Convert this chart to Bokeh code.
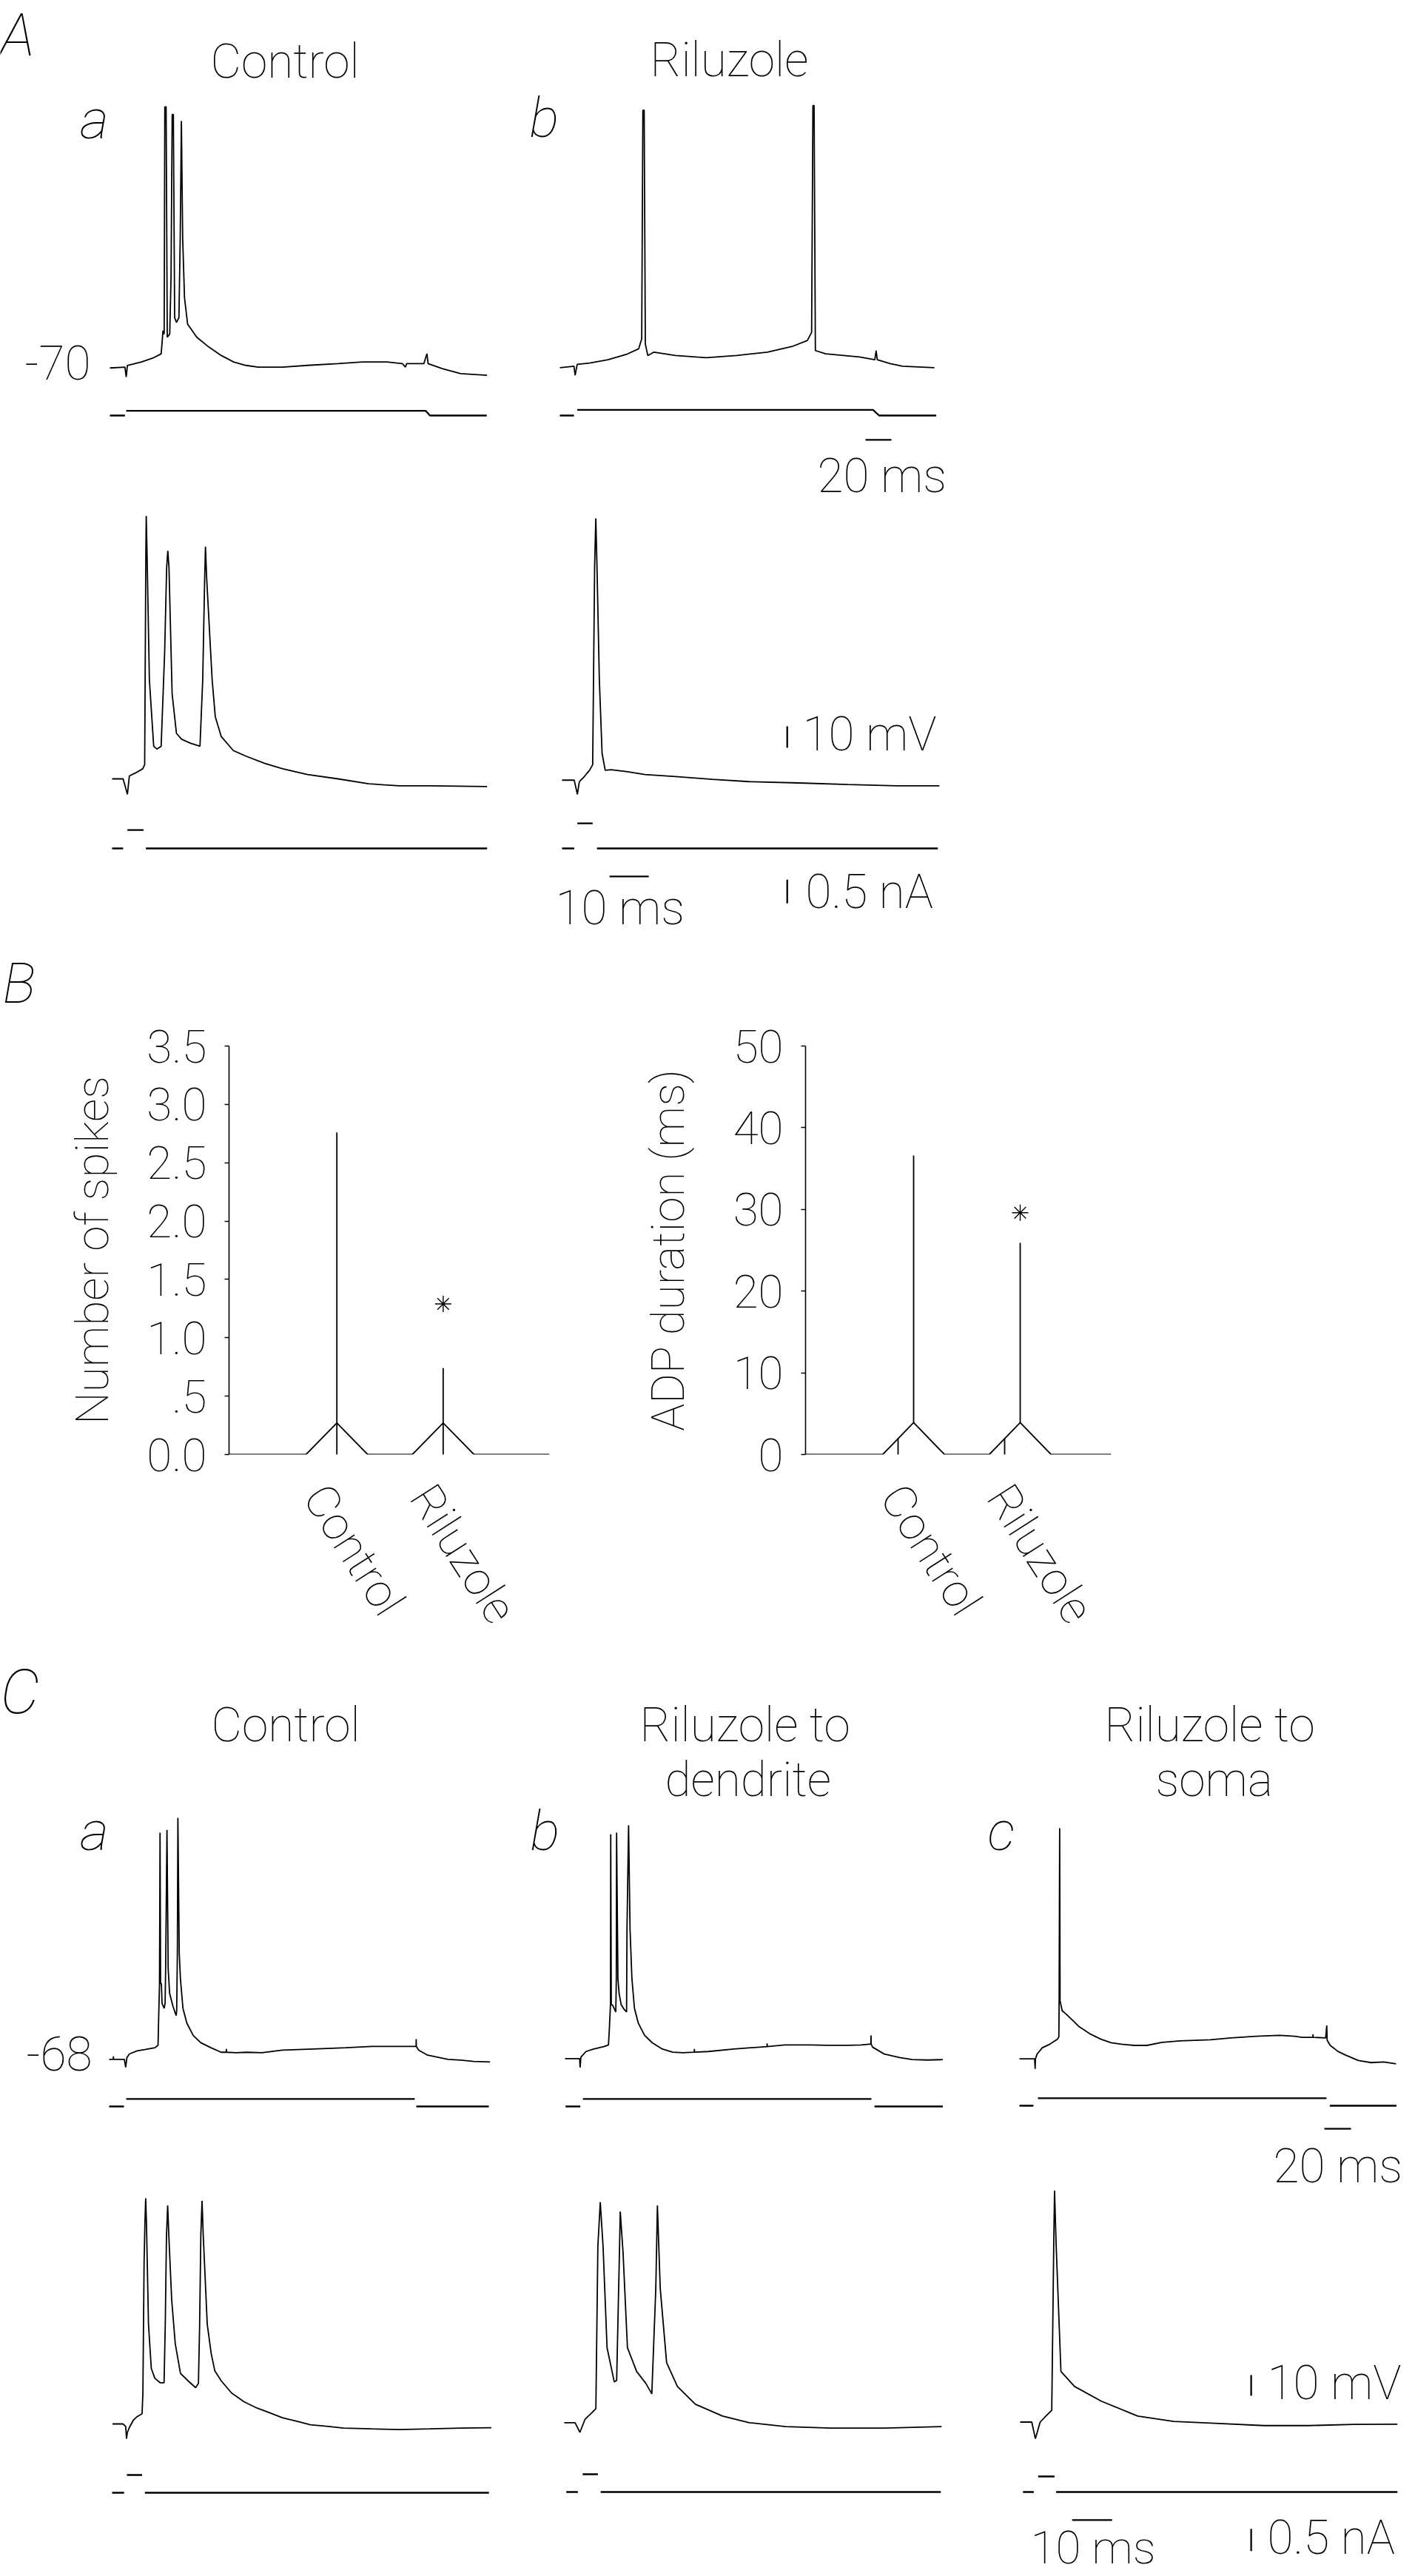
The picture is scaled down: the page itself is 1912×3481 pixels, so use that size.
import numpy as np
from bokeh.plotting import figure
from bokeh.models import Range1d, Label, FixedTicker
from bokeh.layouts import column, row
from bokeh.embed import file_html
from bokeh.resources import INLINE

FONT = "Roboto Thin"
NAN = float("nan")

# ---------------- DATA ----------------
# Membrane potential traces: (time ms, potential mV)
# A, long current step, control / riluzole
A_long_ctrl = [(0, -70.6), (11.6, -70.2), (12.6, -74.8), (13.5, -69.4), (24.4, -67.8), (33.9, -65.8),
               (39.6, -64.0), (41.0, -53.2), (41.9, -54.8), (42.4, 51.1), (43.4, 51.1), (44.3, -56.3),
               (46.2, -54.8), (47.2, -28.6), (48.1, 47.5), (49.0, 47.5), (50.0, -47.1), (51.4, -49.4),
               (53.3, -47.1), (54.3, -10.2), (55.2, 44.5), (56.2, -10.2), (57.6, -37.8), (60.0, -50.2),
               (67.1, -56.3), (76.5, -60.9), (86.0, -64.8), (95.5, -67.8), (105.0, -69.4), (114.5, -70.2),
               (133.4, -70.2), (152.4, -69.4), (176.1, -68.6), (195.0, -67.8), (214.0, -67.8), (225.8, -68.6),
               (228.2, -70.2), (229.1, -68.6), (242.4, -68.6), (244.8, -64.0), (245.7, -68.6), (256.6, -70.9),
               (270.8, -73.2), (291.2, -74.0)]
A_long_ril = [(0, -70.5), (10.9, -69.8), (11.8, -74.0), (13.4, -68.9), (22.9, -68.3), (37.1, -66.8),
              (51.3, -64.3), (60.8, -61.7), (63.2, -57.1), (64.1, 49.5), (65.1, 49.5), (66.0, -59.4),
              (67.9, -64.8), (72.7, -63.2), (89.2, -64.8), (112.9, -65.8), (136.6, -64.8), (160.3, -63.2),
              (179.3, -60.6), (191.1, -57.8), (194.4, -54.0), (195.4, 51.7), (196.3, 51.7), (197.3, -62.5),
              (205.3, -64.0), (231.4, -65.5), (243.2, -66.8), (244.2, -62.5), (245.1, -66.8), (255.1, -68.6),
              (264.6, -69.8), (289.2, -70.5)]
# A, brief current pulse, control / riluzole
A_short_ctrl = [(0, -70), (2.8, -70), (3.9, -77.2), (4.4, -68.6), (5.9, -67.3), (7.8, -65.3), (8.3, -63.4),
                (8.6, 35.6), (8.7, 52.5), (8.9, 35.6), (9.5, -23.8), (10.6, -54.8), (11.4, -56.1), (12.5, -54.8),
                (13.4, -10.6), (13.9, 28.4), (14.2, 36.3), (14.5, 28.4), (15.3, -30.4), (16.4, -48.8),
                (17.7, -51.5), (20.0, -53.4), (22.4, -54.8), (23.1, -23.8), (23.6, 23.7), (23.8, 38.2),
                (24.1, 23.7), (25.5, -23.8), (26.3, -41.0), (27.8, -50.2), (30.9, -56.8), (34.1, -59.4),
                (38.8, -62.7), (43.5, -65.3), (49.8, -68.0), (57.6, -70.0), (65.4, -72.3), (73.2, -73.2),
                (81.0, -73.2), (95.6, -73.6)]
A_short_ril = [(0, -70.6), (3.1, -70.6), (3.9, -77.2), (4.4, -71.3), (5.5, -69.3), (7.0, -66.0), (7.8, -63.4),
               (8.3, 28.9), (8.6, 51.4), (8.9, 28.9), (9.5, -23.8), (10.2, -58.1), (11.0, -66.0), (12.5, -65.7),
               (16.4, -66.6), (21.1, -68.0), (28.9, -68.9), (38.3, -70.2), (47.7, -71.3), (60.3, -71.9),
               (72.8, -72.6), (85.3, -73.2), (96.2, -73.2)]
# C, long current step: control / riluzole to dendrite / riluzole to soma
C_long_ctrl = [(0, -68.1), (3.1, -68.1), (3.2, -66.7), (3.3, -68.1), (11.4, -68.1), (12.4, -72.0), (13.3, -67.3),
               (15.2, -65.5), (21.0, -64.0), (26.7, -63.4), (34.4, -62.5), (36.7, -61.3), (37.2, -46.9),
               (37.8, -31.6), (38.2, 41.3), (38.6, -31.6), (39.2, -31.6), (39.7, -41.1), (41.3, -43.5),
               (42.0, -41.1), (42.4, -24.4), (43.4, 42.6), (44.3, -24.4), (45.4, -36.3), (47.8, -42.3),
               (50.3, -47.0), (50.7, -44.6), (51.2, -16.7), (51.6, 48.4), (52.6, -16.7), (53.5, -29.2),
               (55.4, -43.5), (58.3, -50.6), (63.1, -56.6), (68.8, -60.1), (76.4, -62.5), (84.1, -64.7),
               (87.9, -64.7), (88.0, -63.1), (88.1, -64.7), (95.6, -64.9), (103.2, -64.7), (114.7, -64.9),
               (130.0, -63.7), (153.0, -63.1), (177.8, -62.5), (197.0, -61.9), (216.1, -61.9), (230.4, -61.9),
               (230.5, -58.4), (230.6, -61.9), (232.4, -63.7), (239.1, -66.1), (254.4, -68.1), (264.0, -68.5),
               (273.5, -69.1), (285.9, -69.4)]
C_long_dend = [(0, -68.1), (11.0, -68.1), (11.3, -72.4), (11.9, -67.4), (15.7, -64.7), (21.5, -63.5),
               (29.1, -62.3), (32.6, -61.5), (33.3, -53.4), (34.1, -42.0), (34.3, 40.1), (34.7, -42.0),
               (35.8, -42.4), (37.2, -44.4), (38.1, -45.6), (38.5, -29.5), (38.7, 40.9), (39.7, -29.5),
               (40.6, -36.7), (42.1, -42.0), (44.4, -44.4), (46.2, -45.6), (46.5, -5.7), (47.7, 44.5),
               (48.8, -5.7), (50.2, -29.5), (52.1, -43.8), (55.0, -51.0), (59.7, -56.9), (65.5, -60.5),
               (73.1, -63.5), (80.8, -65.0), (88.4, -65.3), (97.0, -65.0), (97.1, -63.5), (97.2, -65.0),
               (107.6, -64.7), (126.7, -63.5), (151.6, -62.3), (151.7, -60.8), (151.8, -62.3), (164.9, -61.5),
               (184.1, -61.5), (197.5, -61.7), (212.8, -61.7), (222.3, -61.5), (229.6, -61.1), (229.7, -56.9),
               (229.8, -61.1), (230.9, -62.6), (239.6, -65.9), (251.1, -67.6), (260.6, -68.6), (272.1, -68.8),
               (283.6, -68.6)]
C_long_soma = [(0, -68.0), (11.4, -68.0), (11.8, -72.8), (12.0, -68.0), (13.3, -65.6), (17.2, -62.6),
               (22.9, -60.9), (28.6, -58.5), (29.6, -57.3), (29.8, -40.0), (30.2, 43.3), (30.5, -40.0),
               (32.1, -44.8), (34.4, -46.0), (40.1, -49.5), (44.9, -52.5), (53.5, -56.1), (61.2, -58.5),
               (68.8, -60.2), (76.5, -60.9), (86.0, -61.5), (95.7, -61.5), (107.1, -60.0), (120.5, -59.3),
               (143.4, -58.8), (158.7, -57.9), (177.9, -57.1), (195.1, -56.6), (206.6, -57.1), (212.3, -57.6),
               (220.3, -57.6), (220.4, -56.2), (220.5, -57.6), (229.9, -57.9), (230.7, -51.9), (231.0, -59.0),
               (233.3, -61.5), (239.1, -64.4), (244.9, -66.2), (254.4, -68.8), (264.0, -69.8), (273.5, -69.5),
               (282.7, -70.4)]
# C, brief current pulse
C_short_ctrl = [(0.1, -68), (2.7, -68), (3.4, -69.2), (3.6, -75.1), (3.8, -72.2), (4.3, -69.8), (5.3, -66.2),
                (6.3, -64.4), (7.5, -63.1), (7.7, -53.1), (8.0, 10.0), (8.2, 28.4), (8.4, 40.9), (8.6, 28.4),
                (9.1, -19.8), (9.8, -41.2), (10.7, -46.0), (12.0, -48.1), (13.0, -48.1), (13.3, -19.8),
                (13.6, 22.5), (13.9, 37.4), (14.2, 22.5), (14.9, -7.9), (15.8, -29.3), (17.1, -43.6),
                (19.0, -47.2), (20.9, -50.5), (21.6, -48.4), (21.9, -19.8), (22.2, 23.1), (22.5, 39.7),
                (22.8, 23.1), (23.8, -19.8), (24.8, -34.1), (25.7, -42.4), (27.3, -47.2), (29.9, -53.1),
                (33.0, -57.3), (36.2, -60.3), (39.4, -62.6), (42.6, -65.0), (46.4, -66.8), (49.6, -68.4),
                (54.1, -69.2), (57.9, -70.0), (64.9, -70.4), (71.9, -70.7), (79.6, -70.4), (87.3, -70.0),
                (94.9, -69.8)]
C_short_dend = [(0, -68), (2.7, -68), (3.9, -72.7), (5.2, -66.3), (6.8, -63.4), (7.9, -61.2), (8.4, 17.1),
                (9.0, 38.4), (9.7, 17.1), (10.7, -31.8), (12.5, -48.3), (13.1, -47.6), (13.8, 14.2), (14.0, 33.9),
                (14.7, 14.2), (15.8, -31.8), (18.1, -43.3), (20.4, -49.0), (21.9, -54.1), (22.9, -3.0),
                (23.3, 36.8), (24.0, -3.0), (25.6, -39.0), (28.3, -50.5), (32.8, -59.1), (39.6, -64.8),
                (46.3, -68.0), (55.4, -69.9), (66.7, -70.6), (80.2, -70.6), (94.4, -69.9)]
C_short_soma = [(0, -68), (2.9, -68), (3.8, -76.0), (5.0, -68), (6.8, -64.4), (7.9, -62.3), (8.4, 17.5),
                (8.6, 43.7), (9.0, 17.5), (10.2, -43.6), (13.6, -50.8), (20.3, -57.9), (29.4, -65.1),
                (38.4, -67.7), (49.7, -68.7), (61.0, -69.7), (72.3, -69.7), (83.6, -69.1), (94.4, -69.0)]

# Injected current (time ms, nA); NaN marks a break in the drawn trace
I_A_long_ctrl = [(0, 0), (11.6, 0), (NAN, NAN), (12.6, 0.10), (243.8, 0.10), (247.1, 0), (291, 0)]
I_A_long_ril = [(0, 0), (10.9, 0), (NAN, NAN), (13.4, 0.12), (241.8, 0.12), (246.5, 0), (290.6, 0)]
I_A_short_ctrl = [(0, 0), (2.8, 0), (NAN, NAN), (3.9, 0.39), (8.0, 0.39), (NAN, NAN), (8.6, 0), (95.6, 0)]
I_A_short_ril = [(0, 0), (3.1, 0), (NAN, NAN), (3.9, 0.53), (7.8, 0.53), (NAN, NAN), (8.9, 0), (95.8, 0)]
I_C_long_ctrl = [(0, 0), (11.1, 0), (NAN, NAN), (12.8, 0.17), (229.4, 0.17), (NAN, NAN), (230.6, 0), (285, 0)]
I_C_long_dend = [(0.4, 0), (11.5, 0), (NAN, NAN), (13.4, 0.17), (230.0, 0.17), (NAN, NAN), (232.3, 0), (283.6, 0)]
I_C_long_soma = [(0, 0), (10.5, 0), (NAN, NAN), (13.9, 0.17), (230.5, 0.17), (NAN, NAN), (233.0, 0), (283, 0)]
I_C_short_ctrl = [(0, 0), (3.0, 0), (NAN, NAN), (3.7, 0.40), (7.5, 0.40), (NAN, NAN), (8.2, 0), (94.3, 0)]
I_C_short_dend = [(0.5, 0), (3.4, 0), (NAN, NAN), (4.6, 0.40), (8.4, 0.40), (NAN, NAN), (9.1, 0), (94.2, 0)]
I_C_short_soma = [(0.7, 0), (3.4, 0), (NAN, NAN), (4.5, 0.35), (8.6, 0.35), (NAN, NAN), (9.0, 0), (94.4, 0)]

# B: group summary
groups = ["Control", "Riluzole"]
spikes_peak = [0.27, 0.27]
spikes_err_top = [2.76, 0.74]
spikes_star = 1.29
adp_peak = [3.9, 3.9]
adp_err_top = [36.6, 25.9]
adp_star = 29.6
spikes_ticks = [0, 0.5, 1.0, 1.5, 2.0, 2.5, 3.0, 3.5]
spikes_tick_labels = ["0.0", ".5", "1.0", "1.5", "2.0", "2.5", "3.0", "3.5"]
adp_ticks = [0, 10, 20, 30, 40, 50]
adp_tick_labels = ["0", "10", "20", "30", "40", "50"]

# scale bars
BAR_MS_LONG = 20
BAR_MS_SHORT = 10
BAR_MV = 10
BAR_NA = 0.5

LW_TRACE = 1.8
LW_BAR = 2.3

# ---------------- helpers ----------------
def xy(pairs):
    a = np.array(pairs, dtype=float)
    return a[:, 0], a[:, 1]


def canvas(height, top, width=1912):
    p = figure(width=width, height=height, x_range=Range1d(0, width), y_range=Range1d(top + height, top),
               output_backend="svg", toolbar_location=None, x_axis_location=None, y_axis_location=None,
               min_border=0)
    p.outline_line_color = None
    p.grid.visible = False
    return p


def sub(p, x0, px_ms, y0, ref, px_unit):
    return p.subplot(x_source=Range1d(0, 100), x_target=Range1d(x0, x0 + 100 * px_ms),
                     y_source=Range1d(ref, ref + 100), y_target=Range1d(y0, y0 - 100 * px_unit))


def trace(p, lay, vm, cur):
    x0, px_ms, yv, vref, yi, px_mv, px_na = lay
    sv = sub(p, x0, px_ms, yv, vref, px_mv)
    t, v = xy(vm)
    sv.line(t, v, line_color="black", line_width=LW_TRACE)
    si = sub(p, x0, px_ms, yi, 0, px_na)
    t, i = xy(cur)
    si.line(t, i, line_color="black", line_width=LW_BAR)
    return sv, si


def label(p, x, baseline, text, size=64, style="normal"):
    # anchored by the vertical middle of the capitals
    p.add_layout(Label(x=x, y=baseline - 0.36 * size, text=text, text_font=FONT,
                       text_font_size=f"{size}px", text_font_style=style,
                       text_baseline="middle", text_align="left", text_color="black"))


# ---------------- A ----------------
A_H = 1280
pA = canvas(A_H, 0)
# layout: x0, px/ms, y of ref mV, ref mV, y of 0 nA, px/mV, px/nA
trace(pA, (148, 1.75, 495, -70, 561, 2.9, 64), A_long_ctrl, I_A_long_ctrl)
svr, sir = trace(pA, (756, 1.75, 495, -70, 561, 2.9, 64), A_long_ril, I_A_long_ril)
svr.line([236, 236 + BAR_MS_LONG], [-104.1, -104.1], line_color="black", line_width=LW_BAR)
trace(pA, (151, 5.3, 1052, -70, 1146, 2.9, 64), A_short_ctrl, I_A_short_ctrl)
sv2, si2 = trace(pA, (759, 5.3, 1052, -70, 1146, 2.9, 64), A_short_ril, I_A_short_ril)
sv2.line([57.4, 57.4], [-55.5, -55.5 + BAR_MV], line_color="black", line_width=LW_BAR)
sv2.line([12.1, 12.1 + BAR_MS_SHORT], [-115.5, -115.5], line_color="black", line_width=LW_BAR)
si2.line([57.4, 57.4], [-1.16, -1.16 + BAR_NA], line_color="black", line_width=LW_BAR)

label(pA, 0, 76, "A", 80, "italic")
label(pA, 284, 106, "Control")
label(pA, 878, 104, "Riluzole")
label(pA, 108, 187, "a", 75, "italic")
label(pA, 715, 185, "b", 75, "italic")
label(pA, 33, 513, "-70")
label(pA, 1104, 666, "20 ms")
label(pA, 1084, 1015, "10 mV")
label(pA, 750, 1250, "10 ms")
label(pA, 1088, 1228, "0.5 nA")

# ---------------- B ----------------
BL_H = 96                      # strip holding the panel letter
pBs = canvas(BL_H, A_H)
label(pBs, 3, 1356, "B", 76, "italic")

B_TOP = A_H + BL_H             # page y where the charts start
B_H = 2230 - B_TOP
FRAME_TOP = 1413 - B_TOP
FRAME_BOTTOM = 2230 - 1965


def summary(width, left, right, x_end, ymax, ticks, tick_labels, ylabel, label_standoff,
            peaks, tops, star, err_from_peak):
    x_start = -0.014
    p = figure(width=width, height=B_H, x_range=Range1d(x_start, x_end), y_range=Range1d(0, ymax),
               output_backend="svg", toolbar_location=None,
               min_border_left=left, min_border_right=right, min_border_top=FRAME_TOP,
               min_border_bottom=FRAME_BOTTOM)
    p.outline_line_color = None
    p.grid.visible = False
    px_x = (width - left - right) / (x_end - x_start)

    half = 0.29
    xs = [x_start]
    ys = [0]
    for k, pk in enumerate(peaks):
        c = k + 1
        xs += [c - half, c, c + half]
        ys += [0, pk, 0]
    xs.append(x_end)
    ys.append(0)
    p.line(xs, ys, line_color="black", line_width=LW_TRACE)
    for k, (pk, tp) in enumerate(zip(peaks, tops)):
        c = k + 1
        if err_from_peak:
            p.line([c, c], [pk, tp], line_color="black", line_width=LW_TRACE)
            p.line([c - 0.146, c - 0.146], [-0.009 * ymax, 0.04 * ymax], line_color="black",
                   line_width=LW_TRACE)
        else:
            p.line([c, c], [-0.0125 * ymax, tp], line_color="black", line_width=LW_TRACE)
    p.scatter([2], [star], marker="asterisk", size=22, line_color="black", line_width=1.4)

    # category names: rotated tick labels; each label starts 29 px left of its group
    xa = p.xaxis[0]
    cat_ticks = [k + 1 - 29 / px_x for k in range(len(groups))]
    xa.ticker = FixedTicker(ticks=cat_ticks)
    xa.major_label_overrides = {t: g for t, g in zip(cat_ticks, groups)}
    xa.major_label_orientation = -1.0
    xa.axis_line_color = None
    xa.major_tick_line_color = None
    xa.minor_tick_line_color = None
    xa.major_label_text_font = FONT
    xa.major_label_text_font_size = "62px"
    xa.major_label_text_color = "black"
    xa.major_label_standoff = 41

    ya = p.yaxis[0]
    ya.ticker = FixedTicker(ticks=ticks)
    ya.major_label_overrides = {t: s for t, s in zip(ticks, tick_labels)}
    ya.axis_line_color = "black"
    ya.axis_line_width = 1.6
    ya.major_tick_in = 0
    ya.major_tick_out = 6
    ya.major_tick_line_width = 1.6
    ya.major_tick_line_color = "black"
    ya.minor_tick_line_color = None
    ya.major_label_text_font = FONT
    ya.major_label_text_font_size = "62px"
    ya.major_label_text_color = "black"
    ya.major_label_standoff = 24
    ya.axis_label = ylabel
    ya.axis_label_text_font = FONT
    ya.axis_label_text_font_size = "62px"
    ya.axis_label_text_font_style = "normal"
    ya.axis_label_text_color = "black"
    ya.axis_label_standoff = label_standoff
    return p


pB1 = summary(800, 309, 58, 3.0, 3.5, spikes_ticks, spikes_tick_labels,
              "Number of spikes", 34, spikes_peak, spikes_err_top, spikes_star, False)
pB2 = summary(1112, 288, 411, 2.854, 50, adp_ticks, adp_tick_labels, "ADP duration (ms)", 49,
              adp_peak, adp_err_top, adp_star, True)

# ---------------- C ----------------
pC = canvas(1251, 2230)
trace(pC, (147, 1.8, 2782, -68, 2846, 2.8, 60), C_long_ctrl, I_C_long_ctrl)
trace(pC, (763, 1.8, 2781, -68, 2846, 2.8, 60), C_long_dend, I_C_long_dend)
svc, sic = trace(pC, (1377, 1.8, 2781.7, -68, 2845, 2.8, 60), C_long_soma, I_C_long_soma)
svc.line([228.9, 228.9 + BAR_MS_LONG], [-101.7, -101.7], line_color="black", line_width=LW_BAR)
trace(pC, (151, 5.4, 3275, -68, 3368, 2.8, 60), C_short_ctrl, I_C_short_ctrl)
trace(pC, (762, 5.4, 3273.3, -68, 3367, 2.8, 60), C_short_dend, I_C_short_dend)
svc2, sic2 = trace(pC, (1378, 5.4, 3272.5, -68, 3367, 2.8, 60), C_short_soma, I_C_short_soma)
svc2.line([57.8, 57.8], [-55.3, -55.3 + BAR_MV], line_color="black", line_width=LW_BAR)
svc2.line([13.0, 13.0 + BAR_MS_SHORT], [-115.3, -115.3], line_color="black", line_width=LW_BAR)
sic2.line([57.8, 57.8], [-1.33, -1.33 + BAR_NA], line_color="black", line_width=LW_BAR)

label(pC, 0, 2316, "C", 84, "italic")
label(pC, 285, 2354, "Control")
label(pC, 864, 2354, "Riluzole to")
label(pC, 898, 2428, "dendrite")
label(pC, 1492, 2354, "Riluzole to")
label(pC, 1561, 2428, "soma")
label(pC, 108, 2500, "a", 75, "italic")
label(pC, 716, 2500, "b", 75, "italic")
label(pC, 1334, 2500, "c", 75, "italic")
label(pC, 35, 2798, "-68")
label(pC, 1720, 2950, "20 ms")
label(pC, 1712, 3243, "10 mV")
label(pC, 1712, 3452, "0.5 nA")
label(pC, 1392, 3464, "10 ms", 62)

layout = column(pA, pBs, row(pB1, pB2), pC)
open("out.html", "w").write(file_html(layout, INLINE))
